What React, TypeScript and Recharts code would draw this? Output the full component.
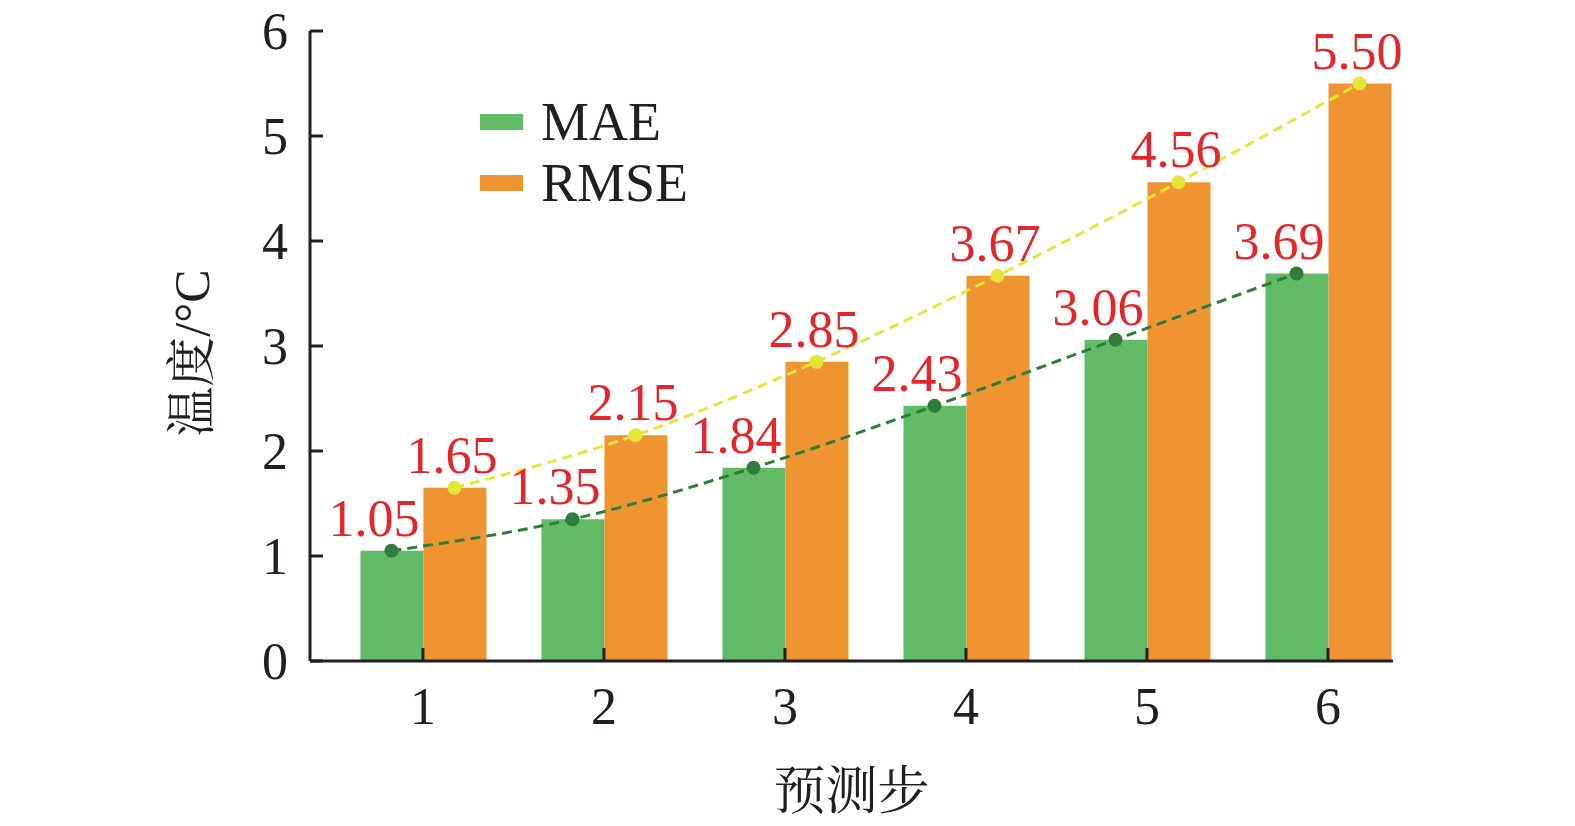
import React from 'react';
import {
  ComposedChart,
  Bar,
  Line,
  XAxis,
  YAxis,
  Legend,
} from 'recharts';

const steps = [1, 2, 3, 4, 5, 6];
const maeValues = [1.05, 1.35, 1.84, 2.43, 3.06, 3.69];
const rmseValues = [1.65, 2.15, 2.85, 3.67, 4.56, 5.5];
const yTicks = [0, 1, 2, 3, 4, 5, 6];

const FONT = '"Liberation Serif", "Times New Roman", "Noto Serif CJK SC", "Noto Sans CJK SC", serif';
const AXIS = '#231f20';
const GREEN = '#62bb67';
const ORANGE = '#ee9430';
const DOT_GREEN = '#2e7d38';
const DOT_YELLOW = '#e6e63a';
const RED = '#e4262b';

// layout of the chart
const WIDTH = 1575;
const HEIGHT = 826;
const MARGIN = { top: 31, right: 182, bottom: 135, left: 210 };
const Y_AXIS_W = 100;
const X_AXIS_H = 30;
const X_DOMAIN: [number, number] = [0.376, 6.359];
const BAR_SIZE = 63;

const plotW = WIDTH - MARGIN.left - MARGIN.right - Y_AXIS_W;
const pxPerStep = plotW / (X_DOMAIN[1] - X_DOMAIN[0]);
const barShift = BAR_SIZE / 2 / pxPerStep;

const barData = steps.map((s, i) => ({ step: s, mae: maeValues[i], rmse: rmseValues[i] }));
const maeLine = steps.map((s, i) => ({ step: s - barShift, v: maeValues[i] }));
const rmseLine = steps.map((s, i) => ({ step: s + barShift, v: rmseValues[i] }));

const valueLabel = (dx: number) => (props: any) => {
  const { x, y, width, value } = props;
  return (
    <text
      x={x + width / 2 + dx}
      y={y - 15}
      textAnchor="middle"
      fill={RED}
      fontSize={52}
      fontFamily={FONT}
    >
      {Number(value).toFixed(2)}
    </text>
  );
};

const legendItems = [
  { name: 'MAE', color: GREEN },
  { name: 'RMSE', color: ORANGE },
];

const renderLegend = () => (
  <div style={{ fontFamily: FONT }}>
    {legendItems.map((it) => (
      <div key={it.name} style={{ display: 'flex', alignItems: 'center', height: 61 }}>
        <div style={{ width: 43, height: 16, background: it.color, marginRight: 18 }} />
        <span style={{ fontSize: 54, color: '#231f20', lineHeight: '54px' }}>{it.name}</span>
      </div>
    ))}
  </div>
);

export default function App() {
  return (
    <div style={{ position: 'absolute', left: 0, top: 0, background: '#fff' }}>
      <ComposedChart width={WIDTH} height={HEIGHT} data={barData} margin={MARGIN} barGap={0}>
        <XAxis
          dataKey="step"
          type="number"
          xAxisId={0}
          height={X_AXIS_H}
          domain={X_DOMAIN}
          allowDataOverflow
          ticks={steps}
          interval={0}
          tickSize={-13}
          tickMargin={39}
          axisLine={{ stroke: AXIS, strokeWidth: 3 }}
          tickLine={{ stroke: AXIS, strokeWidth: 3 }}
          tick={{ fill: AXIS, fontSize: 52, fontFamily: FONT }}
          label={{
            content: (p: any) => (
              <text
                x={p.viewBox.x + p.viewBox.width / 2}
                y={p.viewBox.y + 130}
                textAnchor="middle"
                dominantBaseline="central"
                fill={AXIS}
                fontSize={52}
                fontFamily={FONT}
              >
                预测步
              </text>
            ),
          }}
        />
        <XAxis
          dataKey="step"
          type="number"
          xAxisId="trend"
          height={0}
          domain={X_DOMAIN}
          allowDataOverflow
          hide
        />
        <YAxis
          domain={[0, 6]}
          ticks={yTicks}
          width={Y_AXIS_W}
          interval={0}
          tickSize={-13}
          tickMargin={35}
          axisLine={{ stroke: AXIS, strokeWidth: 3 }}
          tickLine={{ stroke: AXIS, strokeWidth: 3 }}
          tick={{ fill: AXIS, fontSize: 52, fontFamily: FONT }}
          label={{
            content: (p: any) => {
              const cx = p.viewBox.x - 18;
              const cy = p.viewBox.y + p.viewBox.height / 2 + 7;
              return (
                <text
                  x={cx}
                  y={cy}
                  transform={`rotate(-90 ${cx} ${cy})`}
                  textAnchor="middle"
                  dominantBaseline="central"
                  fill={AXIS}
                  fontSize={50}
                  fontFamily={FONT}
                >
                  温度/°C
                </text>
              );
            },
          }}
        />
        <Legend
          content={renderLegend}
          layout="vertical"
          verticalAlign="middle"
          align="center"
          wrapperStyle={{ left: 480, top: 91, width: 'auto' }}
        />
        <Bar dataKey="mae" name="MAE" fill={GREEN} barSize={BAR_SIZE} isAnimationActive={false} label={valueLabel(-18)} />
        <Bar dataKey="rmse" name="RMSE" fill={ORANGE} barSize={BAR_SIZE} isAnimationActive={false} label={valueLabel(-3)} />
        <Line
          data={maeLine}
          xAxisId="trend"
          dataKey="v"
          type="monotone"
          stroke={DOT_GREEN}
          strokeWidth={3}
          strokeDasharray="10 6"
          dot={{ r: 7, fill: DOT_GREEN, stroke: 'none' }}
          activeDot={false}
          legendType="none"
          isAnimationActive={false}
        />
        <Line
          data={rmseLine}
          xAxisId="trend"
          dataKey="v"
          type="monotone"
          stroke={DOT_YELLOW}
          strokeWidth={3}
          strokeDasharray="10 6"
          dot={{ r: 7, fill: DOT_YELLOW, stroke: 'none' }}
          activeDot={false}
          legendType="none"
          isAnimationActive={false}
        />
      </ComposedChart>
    </div>
  );
}
